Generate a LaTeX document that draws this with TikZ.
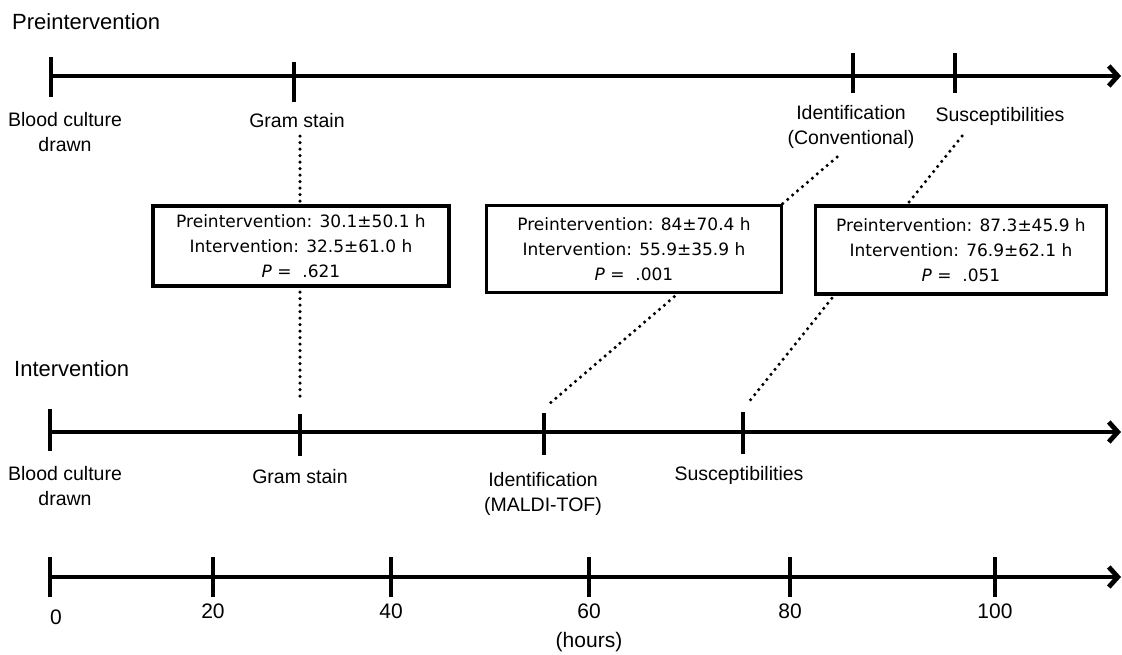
\documentclass[tikz,border=0pt]{standalone}
\usepackage{fontspec}
\setmainfont{Liberation Sans}
\newfontfamily\statfont{DejaVu Sans}
\usetikzlibrary{arrows.meta}
\tikzset{
    time-line/.style = {line width=4.8pt, -{Straight Barb[length=9pt, width=20pt]}},
    time-tick/.style = {line width=4.5pt},
    track-title/.style = {font=\fontsize{22}{26}\selectfont, anchor=west, inner sep=0pt},
    event-label/.style = {font=\fontsize{19.5}{25}\selectfont, align=center, inner sep=0pt},
    hour-label/.style = {font=\fontsize{21}{24}\selectfont, inner sep=0pt},
    stat-box/.style = {draw, fill=white, line width=3.5pt, rectangle, align=center, inner sep=0pt, font=\statfont\fontsize{17}{25}\selectfont},
    stat-link/.style = {line width=3.5pt, line cap=round, dash pattern=on 0pt off 6.5pt},
}

\begin{document}
\begin{tikzpicture}[x=1pt, y=-1pt]
\useasboundingbox (0,0) rectangle (1122,654);

\node[track-title] (pre-title) at (12,22) {Preintervention};
\coordinate (pre-start) at (51,76);
\coordinate (pre-end) at (1121,76);
\draw[time-line] (pre-start) -- (pre-end);
\draw[time-tick] (51,57) -- (51,97);
\draw[time-tick] (294,62) -- (294,102);
\draw[time-tick] (853,53) -- (853,93);
\draw[time-tick] (955,53) -- (955,93);
\node[event-label] (pre-blood) at (65,132) {Blood culture\\drawn};
\node[event-label] (pre-gram) at (297,121) {Gram stain};
\node[event-label] (pre-ident) at (851,127) {Identification\\(Conventional)};
\node[event-label] (pre-susc) at (1000,116) {Susceptibilities};

\node[track-title] (int-title) at (14,369) {Intervention};
\coordinate (int-start) at (50,432);
\coordinate (int-end) at (1121,432);
\draw[time-line] (int-start) -- (int-end);
\draw[time-tick] (50,409) -- (50,451);
\draw[time-tick] (300,414) -- (300,456);
\draw[time-tick] (544,413) -- (544,455);
\draw[time-tick] (743,412) -- (743,454);
\node[event-label] (int-blood) at (65,486) {Blood culture\\drawn};
\node[event-label] (int-gram) at (300,477) {Gram stain};
\node[event-label] (int-ident) at (543,494) {Identification\\(MALDI-TOF)};
\node[event-label] (int-susc) at (739,475) {Susceptibilities};

\coordinate (gram-top) at (300,136);
\coordinate (gram-bot) at (300,398);
\coordinate (ident-top) at (837,157);
\coordinate (ident-bot) at (548,405);
\coordinate (susc-top) at (962,136);
\coordinate (susc-bot) at (748,403);
\draw[stat-link] (gram-top) -- (gram-bot);
\draw[stat-link] (ident-top) -- (ident-bot);
\draw[stat-link] (susc-top) -- (susc-bot);

\node[stat-box, minimum width=296pt, minimum height=80pt] (gram-box) at (301,246)
    {Preintervention: 30.1±50.1 h\\Intervention: 32.5±61.0 h\\\textit{P} = \ .621};
\node[stat-box, minimum width=295pt, minimum height=87pt] (ident-box) at (634,249)
    {Preintervention: 84±70.4 h\\Intervention: 55.9±35.9 h\\\textit{P} = \ .001};
\node[stat-box, minimum width=291pt, minimum height=88pt] (susc-box) at (961,250)
    {Preintervention: 87.3±45.9 h\\Intervention: 76.9±62.1 h\\\textit{P} = \ .051};

\coordinate (axis-start) at (50,577);
\coordinate (axis-end) at (1121,577);
\draw[time-line] (axis-start) -- (axis-end);
\foreach \x/\hrs in {213/20, 391/40, 589/60, 790/80, 995/100} {
    \draw[time-tick] (\x,557) -- (\x,597);
    \node[hour-label] (hour-\hrs) at (\x,611) {\hrs};
}
\draw[time-tick] (50,557) -- (50,597);
\node[hour-label] (hour-0) at (56,617) {0};
\node[hour-label] (hours) at (589,642) {(hours)};
\end{tikzpicture}
\end{document}
